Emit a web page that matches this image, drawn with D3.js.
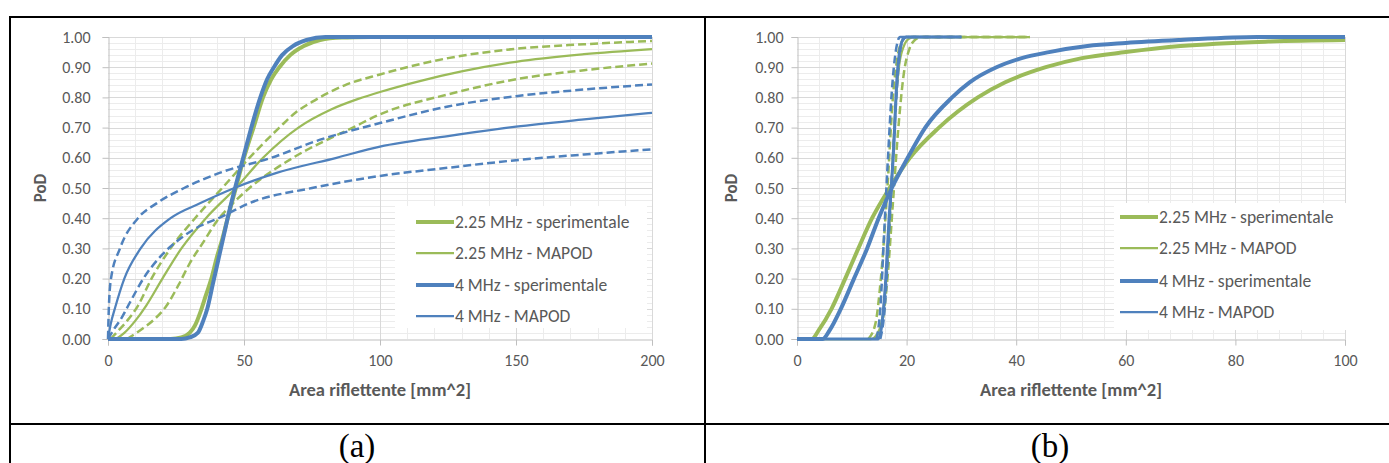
<!DOCTYPE html>
<html>
<head>
<meta charset="utf-8">
<script src="https://cdn.jsdelivr.net/npm/d3@7"></script>
<style>
  body { margin: 0; background: #fff; }
  svg text { font-family: Carlito, "Liberation Sans Narrow", "Open Sans", sans-serif; }
</style>
</head>
<body>
<div id="chart"></div>
<script>
// ---- data ----
var podTicks = [0, 0.1, 0.2, 0.3, 0.4, 0.5, 0.6, 0.7, 0.8, 0.9, 1.0];
var xTicksA = [0, 50, 100, 150, 200];
var xTicksB = [0, 20, 40, 60, 80, 100];
var legendNames = ["2.25 MHz - sperimentale", "2.25 MHz - MAPOD", "4 MHz - sperimentale", "4 MHz - MAPOD"];

// (a) [area, PoD]
var a_225_sper = [[0,0],[23,0],[27,0.005],[30,0.02],[32,0.045],[34,0.09],[36,0.145],[38,0.2],[40,0.27],[42,0.33],[44,0.4],[47,0.5],[50,0.6],[53.5,0.7],[57,0.8],[60,0.86],[63,0.9],[67,0.94],[72,0.97],[78,0.99],[86,0.998],[97,1]];
var a_225_mapod = [[3,0],[6,0.02],[10,0.06],[14,0.11],[20,0.2],[27,0.3],[36,0.4],[47,0.5],[57,0.6],[70,0.7],[82,0.76],[92,0.795],[100,0.818],[115,0.855],[130,0.886],[150,0.918],[175,0.943],[200,0.96]];
var a_225_up = [[1,0],[3,0.02],[7,0.06],[11,0.11],[16,0.2],[23,0.3],[32,0.4],[42,0.5],[52,0.6],[63,0.7],[69,0.75],[75,0.785],[87,0.84],[100,0.876],[125,0.93],[150,0.961],[175,0.976],[200,0.987]];
var a_225_low = [[7,0],[12,0.03],[17,0.065],[21.5,0.11],[26,0.18],[30,0.25],[35,0.32],[40,0.39],[46,0.45],[52,0.5],[68,0.6],[90,0.7],[100,0.744],[125,0.81],[150,0.86],[175,0.89],[200,0.912]];
var a_4_sper = [[0,0],[27,0],[30,0.005],[33,0.02],[35,0.06],[36.5,0.1],[38.5,0.18],[40.5,0.26],[42.5,0.34],[44.5,0.42],[47,0.51],[50,0.61],[53,0.71],[56,0.8],[58.5,0.86],[61,0.9],[64,0.94],[68,0.97],[73,0.99],[80,1],[200,1]];
var a_4_mapod = [[0,0],[1,0.05],[2.5,0.1],[6,0.2],[12,0.3],[23,0.4],[34,0.45],[46.5,0.5],[62,0.55],[84,0.6],[100,0.637],[125,0.672],[150,0.703],[175,0.727],[200,0.749]];
var a_4_up = [[0,0],[0.3,0.1],[1.1,0.2],[4.4,0.3],[11,0.4],[18,0.45],[28,0.5],[41,0.55],[60,0.6],[78,0.66],[100,0.715],[125,0.77],[150,0.804],[175,0.826],[200,0.843]];
var a_4_low = [[0,0],[2,0.03],[5,0.07],[8,0.12],[13,0.2],[20,0.28],[27,0.335],[34,0.375],[40.7,0.4],[52,0.45],[75,0.5],[100,0.54],[125,0.567],[150,0.592],[175,0.611],[200,0.628]];

// (b)
var b_225_sper = [[0,0],[2.7,0],[4,0.03],[6.3,0.1],[8.8,0.2],[11.2,0.3],[13.7,0.4],[16.9,0.5],[20.6,0.6],[25.9,0.7],[33,0.8],[38,0.85],[45.4,0.9],[52,0.93],[60,0.95],[70,0.97],[86,0.985],[100,0.99]];
var b_225_mapod = [[0,0],[13.5,0],[15,0.03],[15.8,0.1],[16.5,0.25],[17.2,0.5],[17.9,0.75],[18.6,0.9],[19.5,0.97],[20.5,0.995],[21.5,1],[42.5,1]];
var b_225_up = [[13,0],[14.3,0.05],[15.3,0.2],[16.5,0.5],[17.5,0.8],[18.3,0.93],[19.3,0.99],[20,1],[42.5,1]];
var b_225_low = [[14,0],[15.5,0.05],[16.5,0.2],[17.5,0.45],[18.5,0.7],[19.5,0.88],[20.5,0.96],[21.5,0.99],[22.7,1],[42.5,1]];
var b_4_sper = [[0,0],[4.7,0],[6,0.03],[8,0.1],[10.4,0.2],[12.8,0.3],[14.9,0.4],[17.3,0.5],[20.2,0.6],[23.4,0.7],[28.3,0.8],[31.5,0.85],[36.4,0.9],[41,0.93],[46,0.95],[53,0.97],[60,0.98],[70,0.99],[84,1],[100,1]];
var b_4_mapod = [[0,0],[14.8,0],[15.5,0.05],[16.2,0.2],[16.8,0.4],[17.2,0.5],[17.7,0.65],[18.2,0.85],[18.7,0.95],[19.3,0.99],[20,1],[30,1]];
var b_4_up = [[14.5,0],[15.2,0.1],[15.9,0.35],[16.6,0.6],[17.3,0.82],[18,0.95],[18.8,1],[30,1]];
var b_4_low = [[15.2,0],[16,0.1],[16.8,0.35],[17.5,0.6],[18.2,0.82],[18.8,0.95],[19.6,1],[30,1]];

var GREEN = "#9bbb59", BLUE = "#4f81bd", TXT = "#595959";

var svg = d3.select("#chart").append("svg").attr("width", 1389).attr("height", 463);

// table frame
var frame = svg.append("g").attr("stroke", "#000").attr("stroke-width", 2);
frame.append("line").attr("x1", 9).attr("x2", 1389).attr("y1", 17).attr("y2", 17);
frame.append("line").attr("x1", 10).attr("x2", 10).attr("y1", 16).attr("y2", 463);
frame.append("line").attr("x1", 705).attr("x2", 705).attr("y1", 16).attr("y2", 463);
frame.append("line").attr("x1", 9).attr("x2", 1389).attr("y1", 424).attr("y2", 424);

svg.append("text").attr("x", 357).attr("y", 457).attr("text-anchor", "middle")
  .style("font-family", "'Liberation Serif', 'Times New Roman', serif").style("font-size", "33px").text("(a)");
svg.append("text").attr("x", 1050).attr("y", 457).attr("text-anchor", "middle")
  .style("font-family", "'Liberation Serif', 'Times New Roman', serif").style("font-size", "33px").text("(b)");

function drawPanel(p) {
  var x = d3.scaleLinear().domain([0, p.xMax]).range([p.x0, p.x1]);
  var y = d3.scaleLinear().domain([0, 1]).range([p.y1, p.y0]);
  var g = svg.append("g");

  // minor grid
  var minX = d3.range(p.xMinor, p.xMax, p.xMinor).filter(function(v) { return p.xTicks.indexOf(v) < 0; });
  var minY = d3.range(0.02, 1, 0.02).filter(function(v) { return Math.abs(v * 10 - Math.round(v * 10)) > 1e-6; });
  g.selectAll(".mx").data(minX).enter().append("line")
    .attr("x1", function(d) { return Math.round(x(d)) + 0.5; }).attr("x2", function(d) { return Math.round(x(d)) + 0.5; })
    .attr("y1", p.y0).attr("y2", p.y1).attr("stroke", "#ececec");
  g.selectAll(".my").data(minY).enter().append("line")
    .attr("y1", function(d) { return Math.round(y(d)) + 0.5; }).attr("y2", function(d) { return Math.round(y(d)) + 0.5; })
    .attr("x1", p.x0).attr("x2", p.x1).attr("stroke", "#ececec");
  // major grid
  g.selectAll(".Mx").data(p.xTicks.slice(1)).enter().append("line")
    .attr("x1", function(d) { return Math.round(x(d)) + 0.5; }).attr("x2", function(d) { return Math.round(x(d)) + 0.5; })
    .attr("y1", p.y0).attr("y2", p.y1).attr("stroke", "#d9d9d9");
  g.selectAll(".My").data(podTicks.slice(1)).enter().append("line")
    .attr("y1", function(d) { return Math.round(y(d)) + 0.5; }).attr("y2", function(d) { return Math.round(y(d)) + 0.5; })
    .attr("x1", p.x0).attr("x2", p.x1).attr("stroke", "#d9d9d9");

  // axes
  var ya = g.append("g").attr("transform", "translate(" + (p.x0 + 0.5) + ",0)")
    .call(d3.axisLeft(y).tickValues(podTicks).tickFormat(d3.format(".2f")).tickSize(6).tickPadding(p.yPad));
  var xa = g.append("g").attr("transform", "translate(0," + (p.y1 + 0.5) + ")")
    .call(d3.axisBottom(x).tickValues(p.xTicks).tickFormat(d3.format("d")).tickSize(6).tickPadding(9));
  [ya, xa].forEach(function(a) {
    a.select(".domain").attr("stroke", "#bfbfbf");
    a.selectAll(".tick line").attr("stroke", "#bfbfbf");
    a.selectAll("text").attr("fill", TXT).style("font-size", "16px")
      .style("font-family", "Carlito, 'Liberation Sans Narrow', 'Open Sans', sans-serif");
  });

  // titles
  g.append("text").attr("x", (p.x0 + p.x1) / 2).attr("y", p.y1 + 57).attr("text-anchor", "middle")
    .attr("fill", TXT).style("font-size", "18.5px").style("font-weight", "bold").text("Area riflettente [mm^2]");
  g.append("text").attr("transform", "translate(" + p.yTitleX + "," + ((p.y0 + p.y1) / 2) + ") rotate(-90)")
    .attr("text-anchor", "middle").attr("fill", TXT).style("font-size", "17px").style("font-weight", "bold").text("PoD");

  // white legend area over the grid
  var L = p.legend;
  g.append("rect").attr("x", L.x).attr("y", L.y).attr("width", L.w).attr("height", L.h).attr("fill", "#fff");

  var line = d3.line().x(function(d) { return x(d[0]); }).y(function(d) { return y(d[1]); }).curve(d3.curveMonotoneX);
  var curves = g.append("g");
  p.series.forEach(function(s) {
    curves.append("path").datum(s.data).attr("d", line).attr("fill", "none")
      .attr("stroke", s.color).attr("stroke-width", s.width)
      .attr("stroke-dasharray", s.dash ? "8,4" : null)
      .attr("stroke-linejoin", "round");
  });

  var styles = [[GREEN, 4], [GREEN, 2.25], [BLUE, 4], [BLUE, 2.25]];
  legendNames.forEach(function(name, i) {
    var yy = L.rows[i];
    g.append("line").attr("x1", L.lineX).attr("x2", L.lineX + 38).attr("y1", yy).attr("y2", yy)
      .attr("stroke", styles[i][0]).attr("stroke-width", styles[i][1]);
    g.append("text").attr("x", L.lineX + 39).attr("y", yy).attr("dy", "0.35em")
      .attr("fill", TXT).style("font-size", "17.5px").text(name);
  });
}

drawPanel({
  x0: 108, x1: 652, y0: 37, y1: 339, xMax: 200, xMinor: 10, xTicks: xTicksA, yTitleX: 46, yPad: 12,
  legend: { x: 395, y: 206, w: 252, h: 122, lineX: 416, rows: [222, 253, 285, 316] },
  series: [
    { data: a_225_sper, color: GREEN, width: 4 },
    { data: a_225_mapod, color: GREEN, width: 2.25 },
    { data: a_225_up, color: GREEN, width: 2.5, dash: true },
    { data: a_225_low, color: GREEN, width: 2.5, dash: true },
    { data: a_4_sper, color: BLUE, width: 4 },
    { data: a_4_mapod, color: BLUE, width: 2.25 },
    { data: a_4_up, color: BLUE, width: 2.5, dash: true },
    { data: a_4_low, color: BLUE, width: 2.5, dash: true }
  ]
});

drawPanel({
  x0: 797, x1: 1345, y0: 37, y1: 339, xMax: 100, xMinor: 4, xTicks: xTicksB, yTitleX: 737, yPad: 8,
  legend: { x: 1114, y: 203, w: 232, h: 127, lineX: 1120, rows: [217, 248, 281, 312] },
  series: [
    { data: b_225_sper, color: GREEN, width: 4 },
    { data: b_225_mapod, color: GREEN, width: 2.25 },
    { data: b_225_up, color: GREEN, width: 2.5, dash: true },
    { data: b_225_low, color: GREEN, width: 2.5, dash: true },
    { data: b_4_sper, color: BLUE, width: 4 },
    { data: b_4_mapod, color: BLUE, width: 3 },
    { data: b_4_up, color: BLUE, width: 2.5, dash: true },
    { data: b_4_low, color: BLUE, width: 2.5, dash: true }
  ]
});
</script>
</body>
</html>
